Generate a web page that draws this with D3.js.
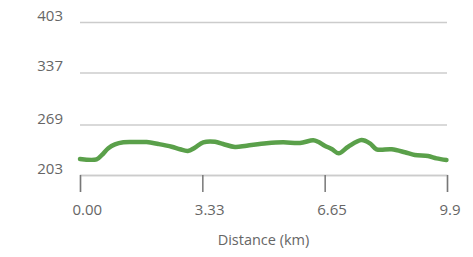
<!DOCTYPE html>
<html>
<head>
<meta charset="utf-8">
<script src="https://cdn.jsdelivr.net/npm/d3@7"></script>
<style>
  body { margin: 0; background: #fff; }
  text { font-family: "Open Sans", sans-serif; fill: #666; }
</style>
</head>
<body>
<div id="graph-holder"></div>
<script>
// elevation profile
var distances = [0.00, 0.45, 0.59, 0.77, 0.95, 1.18, 1.49, 1.81, 2.13, 2.49, 2.72, 2.93,
  3.12, 3.35, 3.67, 3.89, 4.21, 4.53, 5.07, 5.52, 5.98, 6.34, 6.47, 6.65, 6.84, 7.03,
  7.29, 7.65, 7.88, 8.06, 8.47, 8.83, 9.10, 9.46, 9.69, 9.96];
var elevations = [224, 223.5, 229, 238, 243, 245.7, 246, 246, 243.5, 240, 236.6, 234.4,
  238.7, 245.7, 246.5, 243.5, 239.6, 241.3, 244.4, 245.7, 244.8, 248.4, 246.5, 241.3, 237,
  231.4, 240, 248.7, 244.4, 236.6, 236.6, 232.7, 229.1, 227.8, 224.8, 222.6];

var yTicks = [203, 269, 337, 403];
var xTicks = [0, 3.325, 6.65, 9.975];
var xTickLabels = ["0.00", "3.33", "6.65", "9.9"];
var xLabel = "Distance (km)";

function drawProfile() {
  var margin = { top: 22, right: 26, bottom: 82, left: 80 },
    width = 473 - margin.left - margin.right,
    height = 257 - margin.top - margin.bottom;

  var x = d3.scaleLinear().domain([0, 9.975]).range([0, width]);
  var y = d3.scaleLinear().domain([203, 403]).range([height, 0]);

  var svg = d3
    .select("#graph-holder")
    .append("svg")
    .attr("width", 473)
    .attr("height", 257)
    .append("g")
    .attr("transform", `translate(${margin.left}, ${margin.top})`);

  // horizontal grid + y labels
  var yAxis = d3.axisLeft(y).tickValues(yTicks).tickSize(-width).tickFormat(d3.format("d"));
  var gy = svg.append("g").attr("class", "y axis").call(yAxis);
  gy.select(".domain").remove();
  gy.selectAll(".tick line")
    .attr("stroke", "#ccc")
    .attr("stroke-width", 1.5);
  gy.selectAll(".tick text")
    .attr("x", -17)
    .attr("y", -1.5)
    .attr("dy", 0)
    .style("font-size", "15px")
    .style("fill", "#666");

  // bottom axis
  var xAxis = d3.axisBottom(x).tickValues(xTicks).tickSize(17)
    .tickFormat((d, i) => xTickLabels[i]);
  var gx = svg.append("g")
    .attr("class", "x axis")
    .attr("transform", "translate(0, " + height + ")")
    .call(xAxis);
  gx.select(".domain").attr("stroke", "#ccc").attr("stroke-width", 1.5);
  gx.selectAll(".tick line").attr("stroke", "#777").attr("stroke-width", 1.5);
  gx.selectAll(".tick text")
    .attr("text-anchor", "start")
    .attr("x", -8)
    .attr("y", 39.5)
    .attr("dy", 0)
    .style("font-size", "15px")
    .style("fill", "#666");

  svg.append("text")
    .attr("x", width / 2)
    .attr("y", height + 70)
    .attr("text-anchor", "middle")
    .style("font-size", "14.5px")
    .text(xLabel);

  var data = distances.map((d, i) => ({ km: d, elev: elevations[i] }));

  var line = d3.line()
    .x((d) => x(d.km))
    .y((d) => y(d.elev))
    .curve(d3.curveCatmullRom.alpha(0.5));

  svg.append("path")
    .datum(data)
    .attr("fill", "none")
    .attr("stroke", "#5aa04a")
    .attr("stroke-width", 4.5)
    .attr("stroke-linejoin", "round")
    .attr("stroke-linecap", "round")
    .attr("d", line);
}

drawProfile();
</script>
</body>
</html>
